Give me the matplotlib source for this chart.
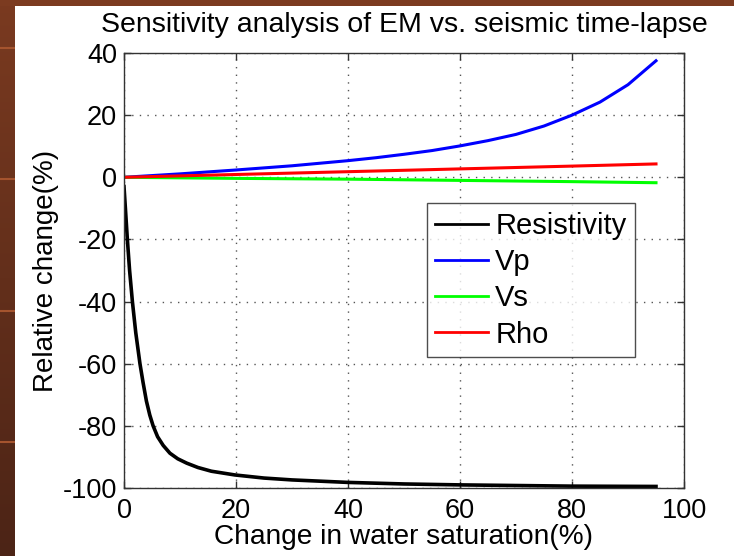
import numpy as np
import matplotlib
matplotlib.use("Agg")
import matplotlib.pyplot as plt
from matplotlib.colors import LinearSegmentedColormap

# ---- data ----
res_x = [0, 0.25, 0.6, 1.0, 1.5, 2.1, 2.85, 3.4, 4.0, 4.6, 5.2, 6.0, 7.0, 8.2, 9.6, 11.2, 13.2, 15.6, 19.8, 25, 30, 40, 50, 60, 70, 80, 95]
res_y = [-3, -10, -20, -30, -40, -50, -60, -66, -72, -76.5, -80, -83.5, -86.3, -88.8, -90.6, -92.0, -93.4, -94.6, -95.8, -96.8, -97.4, -98.2, -98.7, -99.0, -99.2, -99.4, -99.5]

vp_x = [0, 10, 20, 30, 40, 45, 50, 55, 60, 65, 70, 75, 80, 85, 90, 95]
vp_y = [0, 1.1, 2.35, 3.7, 5.35, 6.3, 7.4, 8.6, 10.1, 11.8, 13.8, 16.5, 20.0, 24.2, 29.8, 37.5]

vs_x = [0, 20, 40, 60, 80, 95]
vs_y = [0, -0.35, -0.6, -1.0, -1.4, -1.75]

rho_x = [0, 20, 40, 60, 80, 95]
rho_y = [0, 0.9, 1.8, 2.7, 3.6, 4.3]

xticks = [0, 20, 40, 60, 80, 100]
yticks = [-100, -80, -60, -40, -20, 0, 20, 40]

plt.rcParams['font.family'] = ['Liberation Sans', 'DejaVu Sans']
plt.rcParams['axes.unicode_minus'] = False

W, H = 734, 556
fig = plt.figure(figsize=(W / 100, H / 100), dpi=100)
fig.patch.set_facecolor('white')

# slide background strips
bg = fig.add_axes([0, 0, 15 / W, 1])
grad = np.linspace(0, 1, 256)[:, None]
cm = LinearSegmentedColormap.from_list('br', ['#4c2416', '#7a3a20'])
bg.imshow(grad, aspect='auto', cmap=cm, origin='lower', extent=[0, 1, 0, 1])
for yy in [48, 179, 311, 442]:
    bg.axhline(1 - yy / H, color='#a5542e', lw=1.5)
bg.set_xlim(0, 1); bg.set_ylim(0, 1)
bg.axis('off')
top = fig.add_axes([0, 1 - 6 / H, 1, 6 / H])
top.set_facecolor('#7c3b20')
top.set_xticks([]); top.set_yticks([])
for s in top.spines.values():
    s.set_visible(False)

ax = fig.add_axes([124 / W, 1 - 488 / H, 560 / W, 435 / H])
ax.plot(res_x, res_y, color='black', lw=2.6, label='Resistivity')
ax.plot(vp_x, vp_y, color='#0000ff', lw=2.2, label='Vp')
ax.plot(vs_x, vs_y, color='#00ff00', lw=2.2, label='Vs')
ax.plot(rho_x, rho_y, color='#ff0000', lw=2.2, label='Rho')

ax.set_xlim(0, 100)
ax.set_ylim(-100, 40)
ax.set_xticks(xticks)
ax.set_yticks(yticks)
ax.tick_params(direction='in', length=5, width=1, top=True, right=True,
               labelsize=19.5, color='#333333')
ax.tick_params(axis='x', pad=7)
ax.tick_params(axis='y', pad=5)
ax.grid(True, linestyle=(0, (1, 4.5)), color='#555555', lw=1)
for s in ax.spines.values():
    s.set_color('#333333')
    s.set_linewidth(1)

ax.set_title('Sensitivity analysis of EM vs. seismic time-lapse', fontsize=20.5, pad=15)
ax.set_xlabel('Change in water saturation(%)', fontsize=20.2, labelpad=0)
ax.set_ylabel('Relative change(%)', fontsize=20, labelpad=3)

leg = ax.legend(loc='upper left', bbox_to_anchor=((426.7 - 124) / 560, (488 - 203.3) / 435),
                fontsize=21, frameon=True, fancybox=False, edgecolor='#222222',
                handlelength=1.8, handletextpad=0.25, borderpad=0.3, labelspacing=0.28,
                borderaxespad=0)
leg.get_frame().set_linewidth(1)
for h in leg.get_lines():
    h.set_linewidth(2)

fig.savefig('out.png', dpi=100, facecolor=fig.get_facecolor())
